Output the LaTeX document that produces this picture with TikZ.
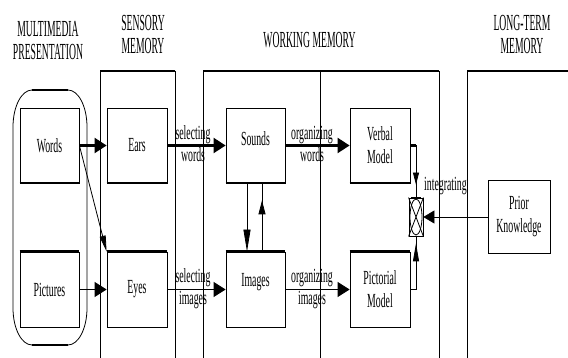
\documentclass[tikz,border=0pt]{standalone}
\usepackage{fontspec}
\setmainfont{Liberation Serif}
\newfontfamily\cf[FakeStretch=0.49]{Liberation Serif}
\newfontfamily\hf[FakeStretch=0.42]{Liberation Serif}
\usetikzlibrary{arrows.meta}
\begin{document}
\begin{tikzpicture}[x=1pt,y=-1pt,
  tl/.style={line width=0.8pt},
  tk/.style={line width=2.2pt},
  box/.style={draw, line width=0.8pt, minimum width=59pt, minimum height=75pt, inner sep=0pt,
     font=\cf\fontsize{20}{23}\selectfont, align=center},
  head/.style={font=\hf\fontsize{23}{23}\selectfont, align=center, inner sep=0pt},
  lab/.style={font=\cf\fontsize{20}{22}\selectfont, align=center, inner sep=0pt},
  big/.style={-{Triangle[length=12pt,width=15pt]}},
  slim/.style={-{Triangle[length=#1,width=7pt]}}
]
\useasboundingbox (0,0) rectangle (568,358);

% headings
\node[head] (hmm) at (48,41) {MULTIMEDIA\\PRESENTATION};
\node[head] (hsm) at (143,35) {SENSORY\\MEMORY};
\node[head] (hwm) at (309.5,40) {WORKING MEMORY};
\node[head] (hlt) at (522,35) {LONG-TERM\\MEMORY};

% panels
\draw[tk] (100,71) -- (175,71);
\draw[tl] (100,71) -- (100,358) (175,71) -- (175,358);
\draw[tk] (203,71) -- (439,71);
\draw[tl] (203,71) -- (203,358) (320,71) -- (320,358) (439,71) -- (439,358);
\draw[tk] (467,71) -- (568,71);
\draw[tl] (467,71) -- (467,358);

% presentation rounded shape
\draw[tl] (32,90) -- (68,90) arc[start angle=90,end angle=0,x radius=19pt,y radius=37pt]
  -- (87,308) arc[start angle=0,end angle=-90,x radius=19pt,y radius=37pt]
  -- (32,345) arc[start angle=270,end angle=180,x radius=19pt,y radius=37pt]
  -- (13,127) arc[start angle=180,end angle=90,x radius=19pt,y radius=37pt] -- cycle;
\draw[tk] (32,90) -- (68,90) (32,345) -- (68,345);

% boxes
\node[box] (words) at (49.5,145.5) {Words};
\node[box] (pictures) at (49.5,289.5) {Pictures};
\node[box, minimum width=60pt] (ears) at (137,145.5) {Ears};
\node[box, minimum width=60pt] (eyes) at (137,289.5) {Eyes};
\node[box, label={[font=\cf\fontsize{20}{23}\selectfont, yshift=7pt]center:Sounds}] (sounds) at (255.5,145.5) {};
\node[box, label={[font=\cf\fontsize{20}{23}\selectfont, yshift=7pt]center:Images}] (images) at (255.5,289.5) {};
\node[box, minimum width=60pt] (verbal) at (380,145.5) {Verbal\\Model};
\node[box, minimum width=60pt] (pictorial) at (380,289.5) {Pictorial\\Model};
\node[box, minimum width=62pt, minimum height=73pt] (prior) at (519,217) {Prior\\Knowledge};
\node[draw, tl, minimum width=14pt, minimum height=38pt, inner sep=0pt] (integ) at (416,217) {};

% thick edges
\draw[tk] (words.south west) -- (words.south east);
\draw[tk] (ears.south west) -- (ears.south east);
\draw[tk] (sounds.south west) -- (sounds.south east);
\draw[tk] (verbal.south west) -- (verbal.south east);
\draw[tk] (pictures.north west) -- (pictures.north east);
\draw[tk] (eyes.north west) -- (eyes.north east);
\draw[tk] (images.north west) -- (images.north east);
\draw[tk] (pictorial.north west) -- (pictorial.north east);

% integrating symbol
\draw[tl] (integ.north west) -- (integ.south east) (integ.north east) -- (integ.south west);
\draw[tl] (integ.center) ellipse[x radius=6pt, y radius=18pt];
\draw[line width=1.6pt] ([xshift=2pt]integ.north west) -- ([xshift=-2pt]integ.north east)
  ([xshift=2pt]integ.south west) -- ([xshift=-2pt]integ.south east);
\node[lab, anchor=west] (intlab) at (424,186) {integrating};

% arrows: sensory
\draw[tk, big] (words.east) -- (ears.west);
\draw[tl, big] (pictures.east) -- (eyes.west);
\draw[tl, -{Triangle[length=16pt,width=6pt]}] (words.east) -- (eyes.north west);

% selecting
\draw[tk, big] (ears.east) -- (sounds.west);
\draw[tl, big] (eyes.east) -- (images.west);
\node[lab] (selw) at (193,144) {selecting\\words};
\node[lab] (seli) at (193,289) {selecting\\images};

% organizing
\draw[tk, big] (sounds.east) -- (verbal.west);
\draw[tl, big] (images.east) -- (pictorial.west);
\node[lab] (orgw) at (312,144) {organizing\\words};
\node[lab] (orgi) at (312,289) {organizing\\images};

% sounds <-> images
\draw[tl, slim=22pt] ([xshift=-8.5pt]sounds.south) -- ([xshift=-8.5pt]images.north);
\draw[tl] ([xshift=6.5pt]images.north) -- ([xshift=6.5pt]sounds.south);
\draw[tl, slim=14pt] ([xshift=6.5pt]images.north) -- ([xshift=6.5pt,yshift=-17pt]sounds.south);

% to integrating
\coordinate (vc) at (verbal.east -| integ.north);
\coordinate (pc) at (pictorial.east -| integ.south);
\draw[tk] (verbal.east) -- (vc);
\draw[tl] (vc) -- (integ.north);
\draw[tl, -{Triangle[length=12pt,width=6pt]}] (vc) -- ([yshift=13pt]integ.north);
\draw[tl] (pictorial.east) -- (pc) -- (integ.south);
\draw[tl, -{Triangle[length=18pt,width=6pt]}] (pc) -- ([yshift=-7pt]integ.south);
\draw[tl, -{Triangle[length=11pt,width=13pt]}] (prior.west |- integ.east) -- (integ.east);
\end{tikzpicture}
\end{document}
